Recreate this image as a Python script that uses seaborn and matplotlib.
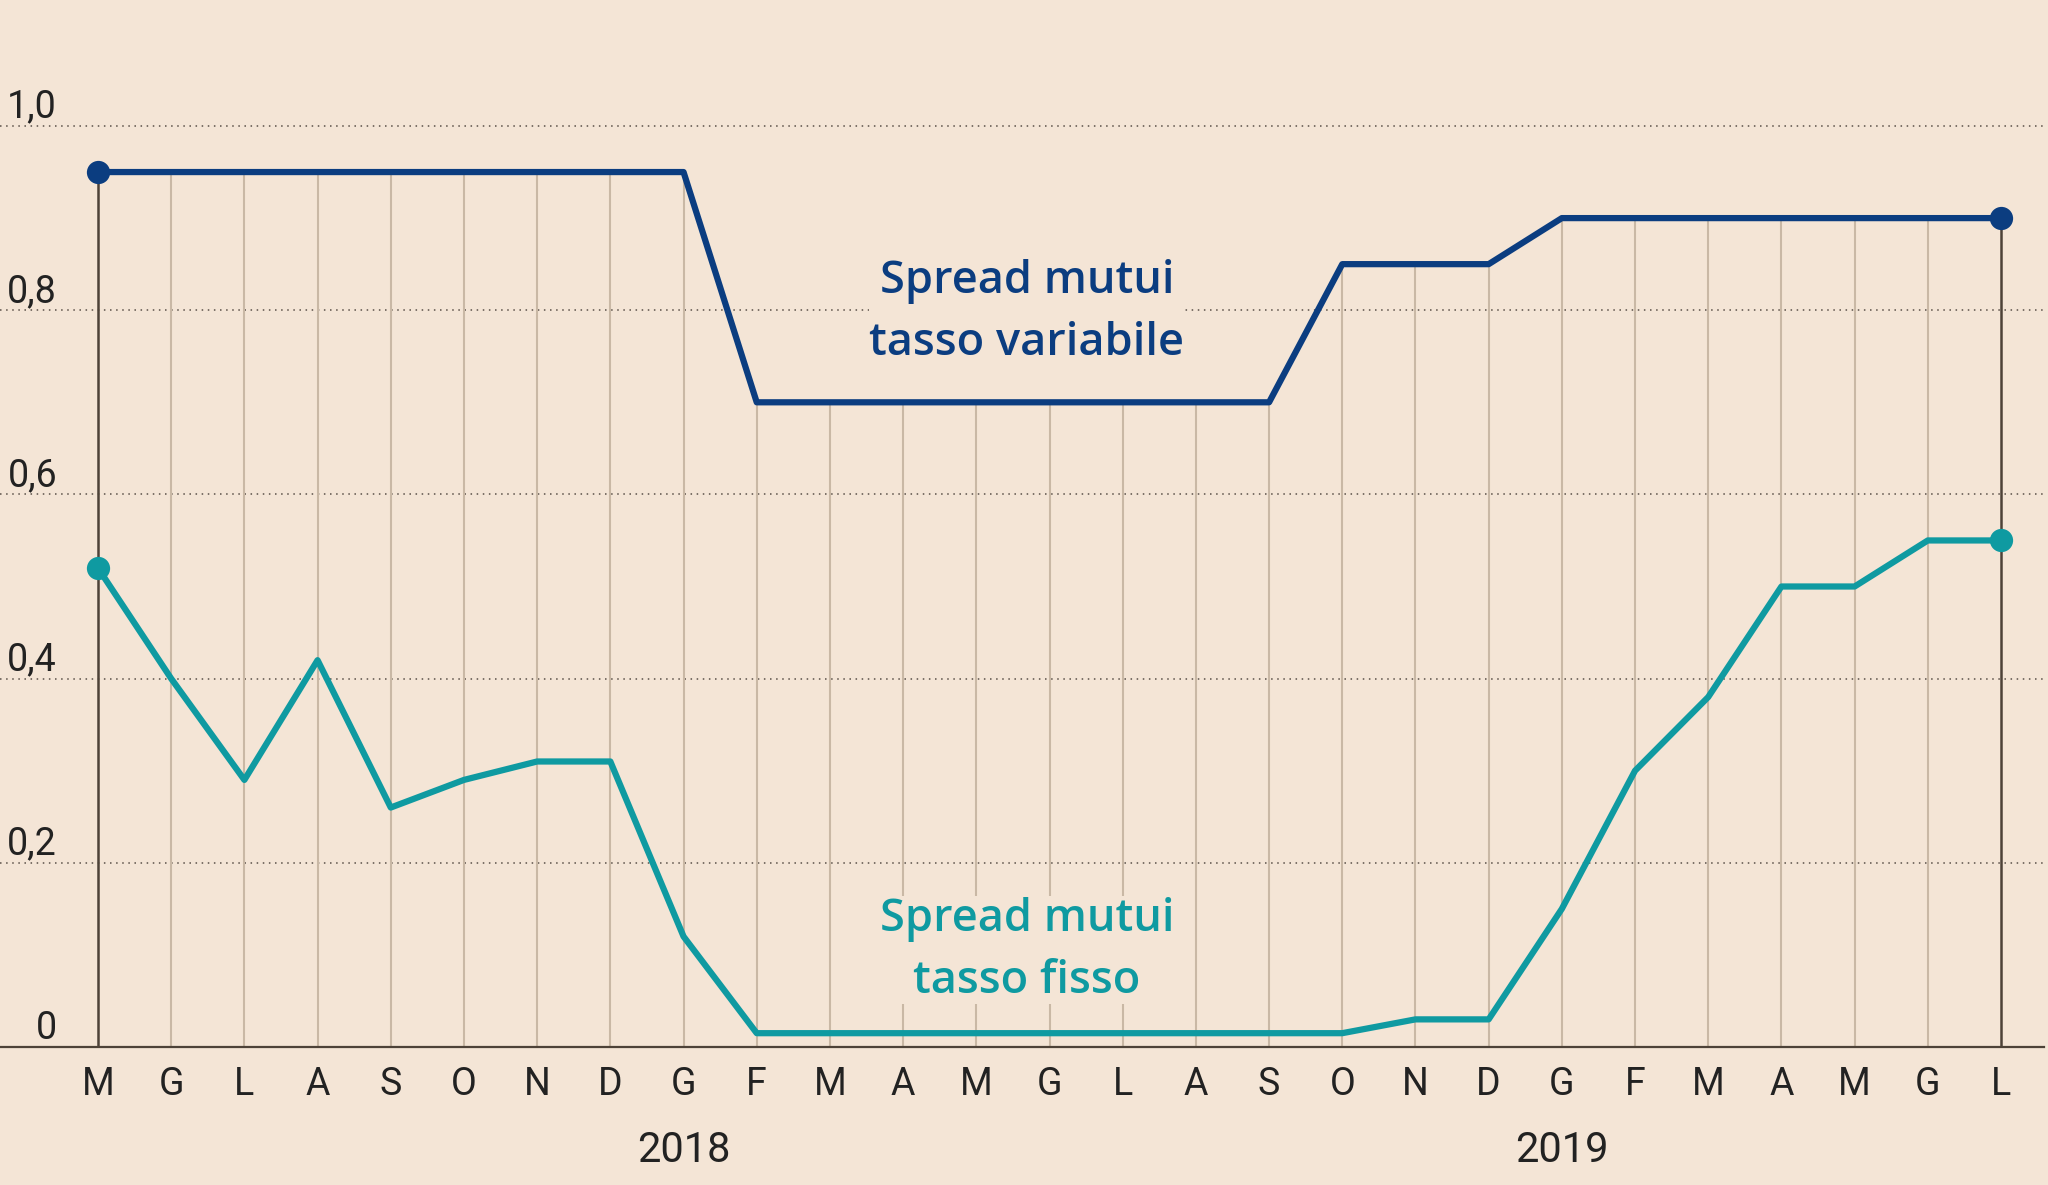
import numpy as np
import pandas as pd
import seaborn as sns
from matplotlib import pyplot as plt

# mesi da maggio 2017 a luglio 2019
mesi = ['M', 'G', 'L', 'A', 'S', 'O', 'N', 'D',
        'G', 'F', 'M', 'A', 'M', 'G', 'L', 'A', 'S', 'O', 'N', 'D',
        'G', 'F', 'M', 'A', 'M', 'G', 'L']
anni = ['2018', '2019']
anni_pos = [8, 20]

variabile = [0.95, 0.95, 0.95, 0.95, 0.95, 0.95, 0.95, 0.95, 0.95,
             0.70, 0.70, 0.70, 0.70, 0.70, 0.70, 0.70, 0.70,
             0.85, 0.85, 0.85,
             0.90, 0.90, 0.90, 0.90, 0.90, 0.90, 0.90]
fisso = [0.52, 0.40, 0.29, 0.42, 0.26, 0.29, 0.31, 0.31, 0.12,
         0.015, 0.015, 0.015, 0.015, 0.015, 0.015, 0.015, 0.015, 0.015,
         0.03, 0.03,
         0.15, 0.30, 0.38, 0.50, 0.50, 0.55, 0.55]
y_ticks = [0, 0.2, 0.4, 0.6, 0.8, 1.0]
y_labels = ['0', '0,2', '0,4', '0,6', '0,8', '1,0']

BG = '#F4E5D6'
BLU = '#0B3D80'
TEAL = '#0F9AA1'

sns.set_style('white')
plt.rcParams['font.family'] = ['Roboto', 'DejaVu Sans']

df = pd.DataFrame({'x': np.arange(len(mesi)), 'variabile': variabile, 'fisso': fisso})

fig = plt.figure(figsize=(20.48, 11.85), dpi=100, facecolor=BG)
ax = fig.add_axes([0, 1 - 1047 / 1185, 2044 / 2048, 1047 / 1185])
ax.set_facecolor(BG)

step = (2001 - 98) / 26
ax.set_xlim(-98 / step, 26 + 43 / step)
ax.set_ylim(0, 1047 / 921)

# griglia orizzontale puntinata
for v in y_ticks[1:]:
    ax.axhline(v, color='#5a5048', lw=1.1, ls=(0, (1, 3)), zorder=1)
for v, lab in zip(y_ticks, y_labels):
    ax.text(-41 / step, v + 0.009, lab, ha='right', va='baseline',
            fontsize=27, color='#222222')

# linee verticali fino alla serie variabile
ax.vlines(df['x'][1:-1], 0, df['variabile'][1:-1], colors='#C9B8A5', lw=1.5, zorder=2)
ax.vlines(df['x'].iloc[[0, -1]], 0, df['variabile'].iloc[[0, -1]], colors='#4d4238', lw=1.8, zorder=2)

sns.lineplot(data=df, x='x', y='variabile', color=BLU, lw=4.5, ax=ax, zorder=5)
sns.lineplot(data=df, x='x', y='fisso', color=TEAL, lw=4.5, ax=ax, zorder=5)
ends = df.iloc[[0, -1]]
sns.scatterplot(data=ends, x='x', y='variabile', color=BLU, s=280, linewidth=0, ax=ax, zorder=6)
sns.scatterplot(data=ends, x='x', y='fisso', color=TEAL, s=280, linewidth=0, ax=ax, zorder=6)

box = dict(facecolor=BG, edgecolor='none', pad=0.3)
ax.text(12.69, 0.798, 'Spread mutui\ntasso variabile', ha='center', va='center',
        fontsize=32.5, color=BLU, family=['Open Sans'], fontweight='semibold',
        linespacing=1.5, bbox=box, zorder=4)
ax.text(12.69, 0.105, 'Spread mutui\ntasso fisso', ha='center', va='center',
        fontsize=32.5, color=TEAL, family=['Open Sans'], fontweight='semibold',
        linespacing=1.5, bbox=box, zorder=4)

ax.set_xticks(df['x'], mesi)
ax.set_yticks([])
ax.tick_params(axis='x', length=0, pad=14, labelsize=27, labelcolor='#222222')
for p, a in zip(anni_pos, anni):
    ax.text(p, -104 / 921, a, ha='center', va='center', fontsize=30,
            color='#222222', clip_on=False)

ax.set_xlabel('')
ax.set_ylabel('')
for s in ['top', 'right', 'left']:
    ax.spines[s].set_visible(False)
ax.spines['bottom'].set_color('#4d4238')
ax.spines['bottom'].set_linewidth(1.6)

fig.savefig('out.png', dpi=100, facecolor=BG)
